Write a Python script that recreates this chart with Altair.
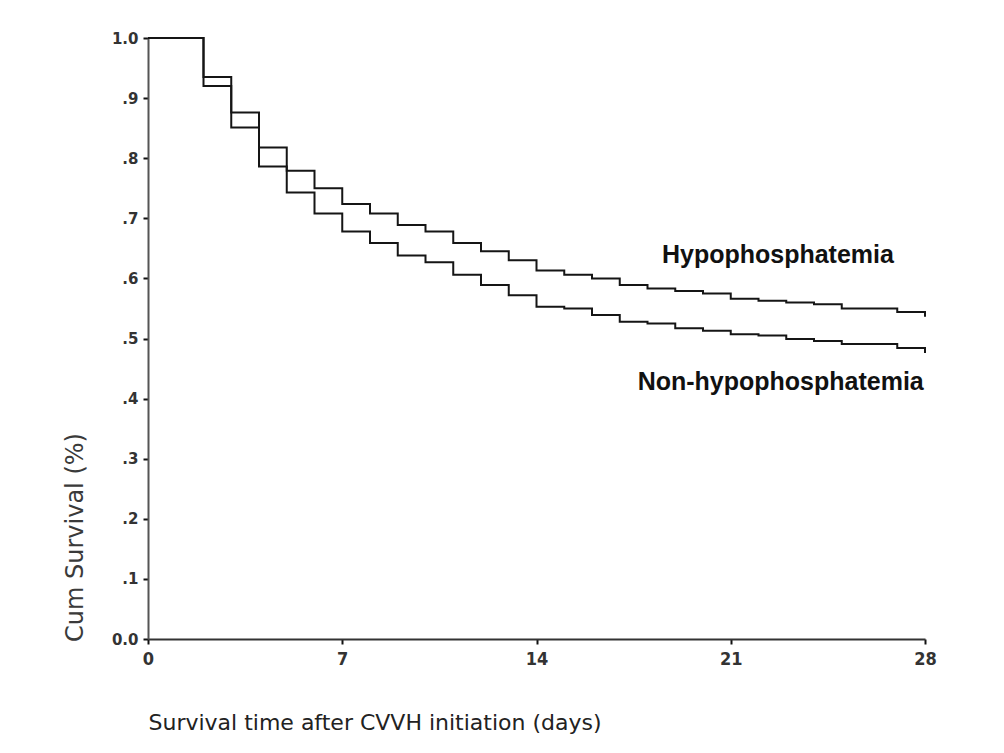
import altair as alt
import pandas as pd

# Kaplan-Meier step curves (day of step, survival after the step)
days_hypo = [0, 2, 3, 4, 5, 6, 7, 8, 9, 10, 11, 12, 13, 14, 15, 16, 17, 18, 19, 20, 21, 22, 23, 24, 25, 27, 28]
surv_hypo = [1.0, 0.935, 0.876, 0.818, 0.779, 0.750, 0.724, 0.708, 0.689, 0.678, 0.659, 0.645, 0.630, 0.613,
             0.606, 0.600, 0.589, 0.583, 0.579, 0.575, 0.566, 0.563, 0.560, 0.557, 0.550, 0.544, 0.536]

days_non = [0, 2, 3, 4, 5, 6, 7, 8, 9, 10, 11, 12, 13, 14, 15, 16, 17, 18, 19, 20, 21, 22, 23, 24, 25, 27, 28]
surv_non = [1.0, 0.920, 0.851, 0.786, 0.743, 0.708, 0.678, 0.659, 0.638, 0.627, 0.606, 0.589, 0.572, 0.553,
            0.550, 0.539, 0.528, 0.525, 0.517, 0.513, 0.507, 0.505, 0.499, 0.496, 0.491, 0.484, 0.476]

groups = ["Hypophosphatemia", "Non-hypophosphatemia"]
x_ticks = [0, 7, 14, 21, 28]
y_ticks = [0.0, 0.1, 0.2, 0.3, 0.4, 0.5, 0.6, 0.7, 0.8, 0.9, 1.0]

df = pd.concat([
    pd.DataFrame({"day": days_hypo, "surv": surv_hypo, "group": groups[0]}),
    pd.DataFrame({"day": days_non, "surv": surv_non, "group": groups[1]}),
])

labels = pd.DataFrame({
    "day": [22.7, 22.8],
    "surv": [0.639, 0.428],
    "text": groups,
})

x_enc = alt.X(
    "day:Q",
    scale=alt.Scale(domain=[0, 28], nice=False),
    axis=alt.Axis(
        values=x_ticks,
        title="Survival time after CVVH initiation (days)",
        titleFont="DejaVu Sans",
        titleFontSize=22,
        titleFontWeight="normal",
        titleColor="#222222",
        titleAnchor="start",
        titleAlign="left",
        titleX=0,
        titleY=83,
        titleBaseline="middle",
        labelFont="Liberation Sans Narrow, DejaVu Sans Condensed",
        labelFontSize=18,
        labelFontWeight="bold",
        labelColor="#333333",
        labelFlush=False,
        labelPadding=6,
        tickSize=5,
        tickColor="#111111",
        tickWidth=2,
        domainColor="#333333",
        domainWidth=2,
        grid=False,
    ),
)

y_enc = alt.Y(
    "surv:Q",
    scale=alt.Scale(domain=[0, 1], nice=False),
    axis=alt.Axis(
        values=y_ticks,
        labelExpr="datum.value >= 1 ? '1.0' : (datum.value <= 0 ? '0.0' : replace(format(datum.value, '.1f'), '0.', '.'))",
        title="Cum Survival (%)",
        titleFont="DejaVu Sans",
        titleFontSize=24,
        titleFontWeight="normal",
        titleColor="#3a3a3a",
        titleAngle=270,
        titleX=-73,
        titleY=499,
        titleAlign="center",
        titleBaseline="middle",
        labelFont="DejaVu Sans",
        labelFontSize=15,
        labelFontWeight="bold",
        labelColor="#333333",
        labelPadding=5,
        tickSize=5,
        tickColor="#111111",
        tickWidth=2,
        domainColor="#555555",
        domainWidth=2,
        grid=False,
    ),
)

lines = alt.Chart(df).mark_line(interpolate="step-after", strokeWidth=2).encode(
    x=x_enc,
    y=y_enc,
    color=alt.Color("group:N", scale=alt.Scale(domain=groups, range=["#151515", "#151515"]), legend=None),
    detail="group:N",
)

text = alt.Chart(labels).mark_text(
    font="Liberation Sans", fontSize=25, fontWeight="bold", color="#111111", align="center", baseline="middle"
).encode(
    x="day:Q",
    y="surv:Q",
    text="text:N",
)

chart = (lines + text).properties(
    width=777,
    height=601,
    autosize=alt.AutoSizeParams(type="none"),
    padding={"left": 140, "top": 30, "right": 70, "bottom": 100},
    background="white",
).configure_view(stroke=None)

chart.save("out.html", embed_options={"renderer": "svg", "actions": False})
